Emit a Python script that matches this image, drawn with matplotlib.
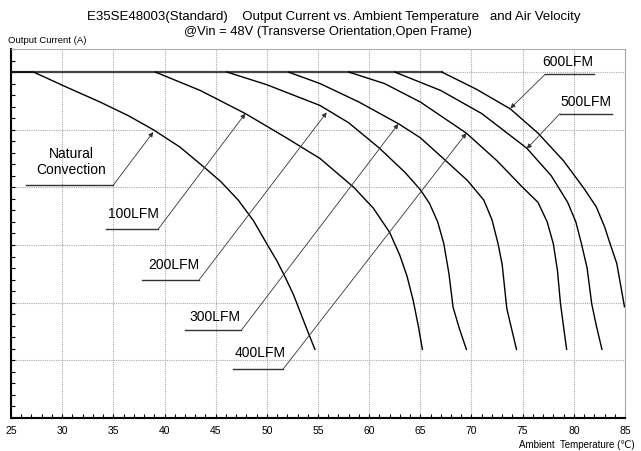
"""Output current derating vs ambient temperature and air velocity."""
import matplotlib

matplotlib.use("Agg")
import matplotlib.pyplot as plt  # noqa: E402
from matplotlib.ticker import MultipleLocator, NullFormatter  # noqa: E402

plt.rcParams["font.family"] = ["Liberation Sans", "DejaVu Sans"]

# current limit (flat top line)
limit_t = [25, 67.1]
limit_i = [30, 30]

nat_t = [25, 27.2, 30.4, 33.7, 36.5, 38.9, 41.5, 43.8, 45.5, 47.2, 48.7, 50.0, 51.0, 51.8, 52.6, 53.3, 54.0, 54.7]
nat_i = [30, 30, 28.7, 27.4, 26.2, 25.0, 23.5, 21.8, 20.5, 18.9, 17.1, 15.1, 13.6, 12.2, 10.7, 9.1, 7.5, 5.95]

lfm100_t = [39.1, 43.5, 47.9, 51.9, 55.2, 58.5, 60.4, 62.0, 63.0, 63.7, 64.3, 64.8, 65.2]
lfm100_i = [30, 28.4, 26.4, 24.3, 22.5, 20.0, 18.2, 16.1, 14.1, 12.3, 10.2, 8.0, 5.95]

lfm200_t = [46.1, 50.0, 55.2, 58.0, 61.0, 63.5, 65.0, 65.9, 66.7, 67.3, 67.8, 68.2, 68.8, 69.5]
lfm200_i = [30, 28.9, 27.1, 25.6, 23.4, 21.3, 19.8, 18.6, 17.0, 15.1, 12.5, 9.6, 7.8, 5.95]

lfm300_t = [52.1, 55.2, 59.0, 62.9, 65.0, 67.5, 69.6, 71.2, 72.0, 72.6, 73.0, 73.45, 73.9, 74.4]
lfm300_i = [30, 29.0, 27.4, 25.5, 24.3, 22.3, 20.6, 18.9, 17.2, 15.1, 13.3, 9.5, 7.8, 5.95]

lfm400_t = [58.0, 61.5, 65.0, 69.5, 72.5, 75.0, 76.5, 77.4, 78.0, 78.4, 78.7, 79.0, 79.3]
lfm400_i = [30, 29.0, 27.4, 24.7, 22.3, 20.0, 18.7, 17.0, 15.1, 12.8, 9.9, 7.9, 5.95]

lfm500_t = [62.5, 67.0, 71.0, 75.4, 77.8, 79.4, 80.2, 80.75, 81.3, 81.75, 82.2, 82.75]
lfm500_i = [30, 28.4, 26.4, 23.4, 21.0, 18.7, 17.0, 15.1, 13.0, 9.9, 8.0, 5.95]

lfm600_t = [67.1, 70.5, 73.8, 76.5, 79.0, 81.0, 82.2, 83.0, 83.55, 84.2, 84.95]
lfm600_i = [30, 28.5, 26.8, 24.7, 22.3, 19.9, 18.3, 16.6, 15.1, 13.4, 9.65]

curves = [
    (nat_t, nat_i), (lfm100_t, lfm100_i), (lfm200_t, lfm200_i), (lfm300_t, lfm300_i),
    (lfm400_t, lfm400_i), (lfm500_t, lfm500_i), (lfm600_t, lfm600_i),
]

# label text, text position, underline (x0, x1, y), arrow tip on curve
labels = [
    ("Natural\nConvection", (30.9, 22.2), (26.5, 35.0, 20.2), (38.9, 24.8)),
    ("100LFM", (37.0, 17.7), (34.3, 39.4, 16.4), (47.9, 26.4)),
    ("200LFM", (40.9, 13.3), (37.8, 43.4, 12.0), (55.85, 26.5)),
    ("300LFM", (44.9, 8.8), (42.0, 47.5, 7.6), (62.85, 25.5)),
    ("400LFM", (49.3, 5.6), (46.7, 51.6, 4.25), (69.5, 24.7)),
    ("600LFM", (79.4, 30.9), (82.0, 77.2, 29.8), (73.8, 26.85)),
    ("500LFM", (81.2, 27.4), (83.7, 78.65, 26.4), (75.4, 23.35)),
]

fig = plt.figure(figsize=(6.41, 4.51), dpi=100)
ax = fig.add_axes([0.0172, 0.0732, 0.9578, 0.8182])

ax.plot(limit_t, limit_i, color="#444444", linewidth=1.6, zorder=3)
for t, i in curves:
    ax.plot(t, i, color="black", linewidth=1.0, zorder=3)

for text, (tx, ty), (ux0, ux1, uy), (ax_, ay) in labels:
    ax.text(tx, ty, text, ha="center", va="center", fontsize=10, linespacing=1.1, zorder=4)
    ax.plot([ux0, ux1], [uy, uy], color="#333333", linewidth=1.0, zorder=4)
    ax.annotate("", xy=(ax_, ay), xytext=(ux1, uy),
                arrowprops=dict(arrowstyle="-|>", color="#333333", lw=0.6,
                                mutation_scale=7, shrinkA=0, shrinkB=0), zorder=4)

ax.set_xlim(25, 85)
ax.set_ylim(0, 32)
ax.xaxis.set_major_locator(MultipleLocator(5))
ax.xaxis.set_minor_locator(MultipleLocator(1))
ax.yaxis.set_major_locator(MultipleLocator(5))
ax.yaxis.set_minor_locator(MultipleLocator(1))
ax.yaxis.set_major_formatter(NullFormatter())
ax.grid(True, which="major", color="#aaaaaa", linestyle=(0, (1, 1)), linewidth=0.8)
ax.tick_params(axis="both", which="both", direction="in", length=3, width=0.8, labelsize=7.5)
ax.tick_params(axis="x", pad=6)
ax.tick_params(axis="y", left=True, right=False, labelleft=False)
for side in ("left", "bottom"):
    ax.spines[side].set_linewidth(1.5)
    ax.spines[side].set_color("black")
for side in ("top", "right"):
    ax.spines[side].set_linewidth(0.8)
    ax.spines[side].set_color("#aaaaaa")

fig.text(0.52, 0.963, "E35SE48003(Standard)    Output Current vs. Ambient Temperature   and Air Velocity",
         ha="center", va="center", fontsize=9.5)
fig.text(0.512, 0.929, "@Vin = 48V (Transverse Orientation,Open Frame)", ha="center", va="center", fontsize=9.3)
fig.text(0.013, 0.91, "Output Current (A)", ha="left", va="center", fontsize=6.8)
fig.text(0.99, 0.002, "Ambient  Temperature (℃)", ha="right", va="bottom", fontsize=7)

fig.savefig("out.png", dpi=100)
